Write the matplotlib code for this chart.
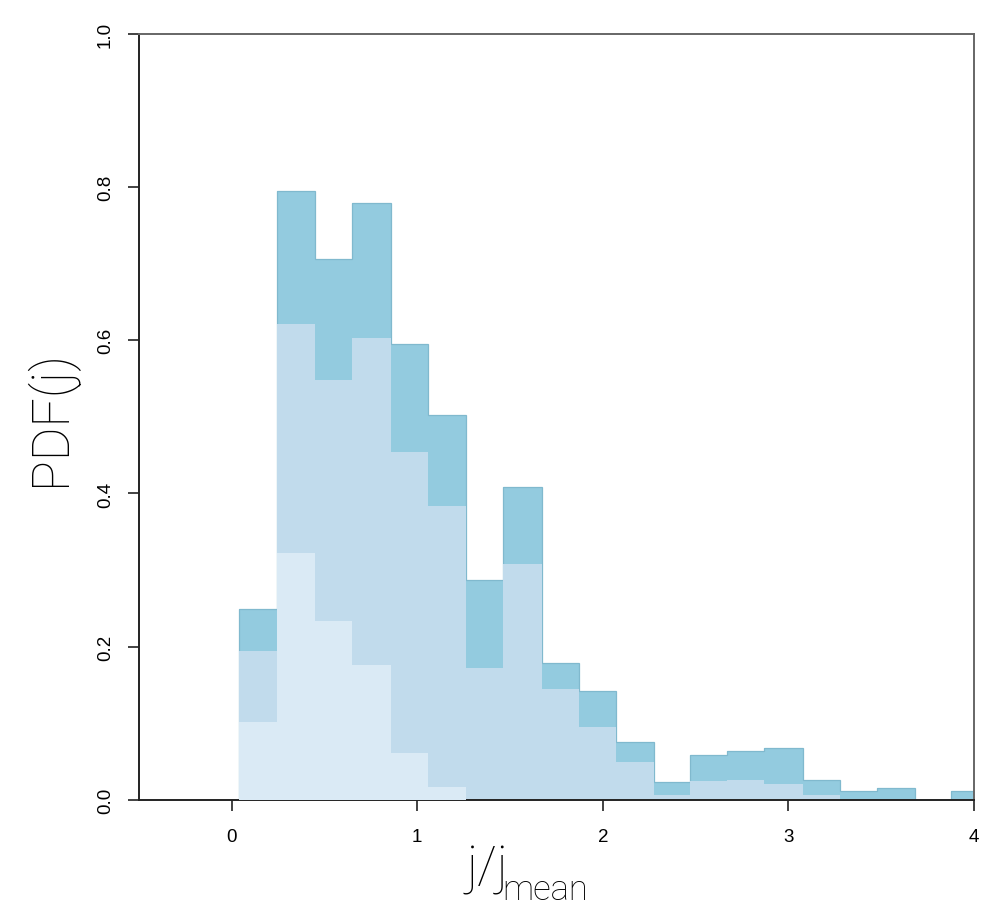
import numpy as np
import matplotlib.pyplot as plt

# bin edges of the histogram (j / j_mean)
bin_edges = [0.04, 0.243, 0.45, 0.65, 0.857, 1.06, 1.26, 1.46, 1.67, 1.87, 2.07,
             2.275, 2.47, 2.667, 2.87, 3.077, 3.28, 3.475, 3.68, 3.874, 4.08]

# all samples (darkest layer)
pdf_all = [0.249, 0.795, 0.706, 0.779, 0.595, 0.502, 0.287, 0.408, 0.178, 0.142,
           0.075, 0.023, 0.058, 0.064, 0.067, 0.026, 0.012, 0.015, 0.0, 0.011]
# middle layer
pdf_mid = [0.194, 0.621, 0.548, 0.603, 0.454, 0.384, 0.172, 0.308, 0.145, 0.095,
           0.049, 0.006, 0.024, 0.026, 0.020, 0.006, 0.0, 0.0, 0.0, 0.0]
# lightest layer
pdf_low = [0.101, 0.322, 0.234, 0.176, 0.061, 0.016, 0.0, 0.0, 0.0, 0.0,
           0.0, 0.0, 0.0, 0.0, 0.0, 0.0, 0.0, 0.0, 0.0, 0.0]

x_ticks = [0, 1, 2, 3, 4]
y_ticks = [0.0, 0.2, 0.4, 0.6, 0.8, 1.0]

fig = plt.figure(figsize=(9.89, 9.12), dpi=100)
ax = fig.add_axes([0.1405, 0.122, 0.8443, 0.8396])

edges = np.array(bin_edges)
ax.stairs(pdf_all, edges, fill=True, color='#93CBDF', zorder=1)
ax.stairs(pdf_all, edges, fill=False, color='#80B9CE', linewidth=0.9, zorder=1.5)
ax.stairs(pdf_mid, edges, fill=True, color='#C1DBEC', zorder=2)
ax.stairs(pdf_low, edges, fill=True, color='#DAEAF5', zorder=3)

ax.set_xlim(-0.5, 4)
ax.set_ylim(0, 1)

ax.set_xticks(x_ticks)
ax.set_xticklabels([str(t) for t in x_ticks], fontsize=13.5, family='Liberation Sans')
ax.set_yticks(y_ticks)
ax.set_yticklabels(['%.1f' % t for t in y_ticks], fontsize=13.5, family='Liberation Sans',
                   rotation=90, va='center')
ax.tick_params(axis='both', direction='out', length=8, width=1.2, color='#222222')
ax.tick_params(axis='x', pad=12)
ax.tick_params(axis='y', pad=10)

for side in ['left', 'bottom']:
    ax.spines[side].set_linewidth(1.4)
    ax.spines[side].set_color('#222222')
for side in ['top', 'right']:
    ax.spines[side].set_linewidth(1.4)
    ax.spines[side].set_color('#666666')

# axis labels (thin font, subscript drawn as its own text)
fig.text(0.051, 0.542, 'PDF(j)', rotation=90, ha='center', va='center',
         fontsize=37, family='Roboto', fontweight='light')
fig.text(0.514, 0.031, 'j/j', ha='right', va='baseline',
         fontsize=37, family='Roboto', fontweight='light')
fig.text(0.508, 0.013, 'mean', ha='left', va='baseline',
         fontsize=25, family='Roboto', fontweight='light')

fig.savefig('out.png', dpi=100)
